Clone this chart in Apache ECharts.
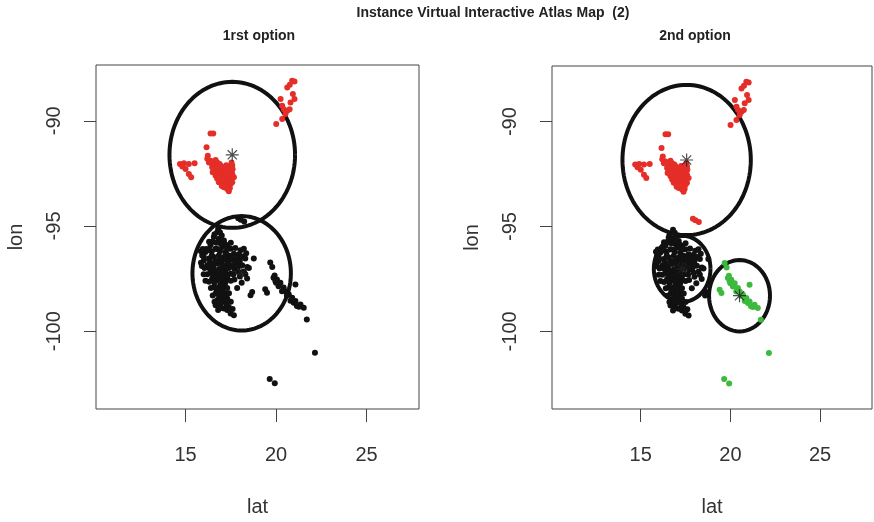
<!DOCTYPE html>
<html>
<head>
<meta charset="utf-8">
<script src="https://cdn.jsdelivr.net/npm/echarts@6/dist/echarts.min.js"></script>
<style>
  html, body { margin: 0; padding: 0; background: #fff; }
  #chart { width: 874px; height: 522px; }
</style>
</head>
<body>
<div id="chart"></div>
<script>
// Tick positions on each axis
const latTicks = [15, 20, 25];
const lonTicks = [-90, -95, -100];

// Observations as [lat, lon]
// Northern group: red in both options
const redPts = [
  [16.38,-90.60],[16.53,-90.60],[16.16,-91.26],[16.23,-91.66],[16.29,-91.98],
  [14.69,-92.05],[14.91,-92.02],[15.18,-92.05],[15.50,-92.02],[15.00,-92.29],
  [15.18,-92.53],[15.31,-92.69],[14.82,-92.18],
  [16.56,-92.05],[16.75,-91.98],[16.93,-92.13],[17.12,-92.21],[17.30,-92.29],
  [17.49,-92.37],[17.54,-91.98],[17.58,-92.13],[16.56,-92.37],[16.75,-92.53],
  [16.93,-92.45],[17.12,-92.61],[17.30,-92.69],[17.49,-92.76],[17.67,-92.69],
  [17.58,-92.92],[17.39,-93.08],[17.30,-93.24],[17.39,-93.35],[17.12,-93.00],
  [16.93,-92.84],[16.75,-92.76],[16.66,-92.61],[16.84,-92.29],[17.03,-92.37],
  [17.21,-92.45],[17.39,-92.53],[17.58,-92.53],[17.21,-92.84],[17.03,-92.69],
  [16.84,-92.92],[17.12,-93.16],[16.47,-92.21],[16.38,-91.90],[16.66,-91.87],
  [16.62,-92.18],[16.88,-92.05],[17.05,-92.22],[17.25,-92.12],[17.45,-92.20],
  [16.98,-92.58],[17.18,-92.75],[17.40,-92.90],[16.70,-92.40],[17.00,-92.95],
  [17.25,-93.00],[17.50,-93.00],[16.90,-92.30],
  [16.20,-91.80],[16.50,-92.45],[16.40,-92.00],[16.65,-92.25],[16.80,-92.60],
  [17.05,-92.80],[17.30,-92.40],[17.50,-92.50],[17.35,-92.80],[17.15,-92.35],
  [16.95,-92.20],[17.60,-92.30],[17.20,-93.10],[17.00,-93.10],[17.45,-93.20],
  [20.89,-88.10],[21.02,-88.14],[20.76,-88.29],[20.62,-88.42],[20.93,-88.73],
  [21.02,-88.97],[20.80,-89.13],[20.25,-88.97],[20.34,-89.29],[20.43,-89.45],
  [20.62,-89.53],[20.75,-89.45],[20.52,-89.68],[20.34,-89.92],[20.01,-90.16]
];
// Black in option 1, red in option 2
const movedPts = [[17.91,-94.63],[18.24,-94.79],[18.05,-94.70]];
// Central group: black in both options
const blackPts = [
  [16.80,-95.15],[16.75,-95.30],[16.56,-95.53],[16.84,-95.61],[17.12,-95.69],
  [17.30,-95.92],[16.38,-95.92],[16.10,-96.24],[16.66,-96.08],[17.03,-96.00],
  [17.49,-96.08],[16.29,-96.55],[16.56,-96.48],[16.84,-96.40],[17.12,-96.48],
  [17.39,-96.40],[17.67,-96.32],[18.04,-96.16],[18.22,-96.08],[16.20,-96.87],
  [16.47,-96.87],[16.75,-96.79],[17.03,-96.87],[17.30,-96.79],[17.58,-96.87],
  [17.86,-96.79],[18.13,-96.87],[18.41,-96.95],[16.38,-97.19],[16.66,-97.19],
  [16.93,-97.27],[17.21,-97.19],[17.49,-97.27],[17.94,-97.19],[18.22,-97.16],
  [16.47,-97.50],[16.75,-97.58],[17.03,-97.58],[17.30,-97.50],[16.56,-97.90],
  [16.84,-97.90],[17.12,-97.82],[16.66,-98.21],[16.93,-98.29],[17.21,-98.21],
  [16.75,-98.53],[17.03,-98.61],[17.30,-98.45],[17.12,-98.92],[17.39,-98.85],
  [16.66,-98.77],[17.49,-99.16],[17.67,-99.24],[15.92,-96.40],[16.01,-96.64],
  [18.77,-96.55],[18.68,-98.14],[18.59,-98.29],
  [16.95,-95.85],[16.45,-96.20],[16.90,-96.20],[17.20,-96.25],[16.65,-96.65],
  [17.00,-96.65],[17.45,-96.62],[16.30,-97.00],[16.85,-97.05],[17.15,-97.00],
  [17.70,-97.05],[16.60,-97.35],[17.05,-97.40],[16.95,-97.75],[16.75,-98.05],
  [17.05,-98.05],[16.85,-98.40],[16.90,-98.80],[17.25,-98.70],[16.15,-96.10],
  [16.50,-95.75],[17.60,-96.60],[18.00,-97.40],[17.70,-97.55],
  [16.60,-95.40],[17.00,-95.45],[16.90,-95.30],[16.30,-95.75],[16.70,-95.80],
  [17.15,-95.85],[17.50,-95.80],[15.95,-96.10],[16.30,-96.15],[16.75,-96.10],
  [17.30,-96.10],[17.75,-96.05],[17.95,-96.35],[16.00,-96.45],[16.45,-96.40],
  [17.25,-96.35],[17.55,-96.50],[17.85,-96.50],[18.30,-96.55],[15.85,-96.75],
  [16.35,-96.70],[16.85,-96.65],[17.20,-96.60],[17.75,-96.70],[18.00,-96.65],
  [16.05,-97.00],[16.55,-97.00],[17.00,-97.05],[17.40,-97.00],[17.90,-96.95],
  [18.30,-97.30],[16.20,-97.30],[16.45,-97.25],[16.80,-97.35],[17.30,-97.35],
  [17.65,-97.30],[16.30,-97.65],[16.60,-97.70],[16.90,-97.60],[17.20,-97.70],
  [17.50,-97.60],[16.40,-97.95],[16.70,-98.00],[17.00,-97.90],[17.30,-97.95],
  [16.50,-98.30],[16.80,-98.20],[17.10,-98.35],[17.40,-98.20],[16.60,-98.60],
  [16.90,-98.60],[17.20,-98.55],[17.50,-98.60],[16.80,-99.00],[17.00,-98.90],
  [17.30,-99.00],[17.60,-98.95],
  [15.90,-96.90],[16.00,-97.30],[16.10,-97.60],[18.35,-96.30],[18.50,-97.00],
  [18.40,-97.50],[18.10,-97.70],[15.85,-96.20],[18.15,-96.45],[17.85,-97.95]
];
// Black in option 1, green in option 2
const greenPts = [
  [19.68,-96.74],[19.79,-96.95],[19.86,-97.46],[20.05,-97.54],[20.24,-97.70],
  [20.14,-97.86],[20.42,-97.93],[20.52,-98.10],[20.70,-98.25],[20.89,-98.41],
  [21.07,-98.57],[21.35,-98.73],[21.53,-98.89],[19.40,-98.01],[19.50,-98.17],
  [21.07,-97.78],[19.96,-97.62],[20.33,-98.10],[20.98,-98.65],[21.26,-98.84],
  [19.92,-97.35],[20.00,-97.70],[20.60,-98.30],[20.80,-98.55],[21.15,-98.80],
  [21.70,-99.45],[22.15,-101.03],[19.65,-102.27],[19.93,-102.48]
];

// Cluster centres [lat, lon] and circle radii (in degrees)
const centres1 = [[17.58,-91.62],[18.10,-97.25]];
const radii1 = [3.47, 2.72];
const centres2 = [[17.56,-91.83],[17.31,-97.02],[20.51,-98.30]];
const radii2 = [3.58, 1.58, 1.70];

const RED = '#e52e28';
const BLACK = '#111111';
const GREEN = '#3dba3d';
const FONT_AX = '"Liberation Sans", Arial, sans-serif';
const FONT_T = '"Liberation Sans", Arial, sans-serif';

// Outline of a circle around a centre, as a closed polyline
function ring(c, r) {
  const pts = [];
  for (let i = 0; i <= 120; i++) {
    const a = (i / 120) * Math.PI * 2;
    pts.push([c[0] + r * Math.cos(a), c[1] + r * Math.sin(a)]);
  }
  return pts;
}

const STAR = 'path://M5,0L5,10M0,5L10,5M1.46,1.46L8.54,8.54M8.54,1.46L1.46,8.54';

function xAx(idx) {
  return {
    gridIndex: idx, type: 'value', min: 10.05, max: 27.9,
    name: 'lat', nameLocation: 'middle', nameGap: 88,
    nameTextStyle: { fontFamily: FONT_AX, fontSize: 20, color: '#333' },
    splitLine: { show: false },
    axisLine: { show: false },
    axisTick: { show: true, inside: false, length: 13, customValues: latTicks,
      lineStyle: { color: '#444', width: 1 } },
    axisLabel: { customValues: latTicks, margin: 36, fontFamily: FONT_AX,
      fontSize: 20, color: '#333' }
  };
}
function yAx(idx) {
  return {
    gridIndex: idx, type: 'value', min: -103.7, max: -87.35,
    name: 'lon', nameLocation: 'middle', nameGap: 70, nameRotate: 90,
    nameTextStyle: { fontFamily: FONT_AX, fontSize: 20, color: '#333' },
    splitLine: { show: false },
    axisLine: { show: false },
    axisTick: { show: true, inside: false, length: 12, customValues: lonTicks,
      lineStyle: { color: '#444', width: 1 } },
    axisLabel: { customValues: lonTicks, rotate: 90, margin: 32,
      fontFamily: FONT_AX, fontSize: 20, color: '#333' }
  };
}

function pts(data, color, idx, z) {
  return { type: 'scatter', xAxisIndex: idx, yAxisIndex: idx, data: data,
    symbol: 'circle', symbolSize: 6, itemStyle: { color: color, opacity: 1 },
    z: z || 3, silent: true, animation: false };
}
function rings(centres, radii, idx) {
  return centres.map((c, i) => ({
    type: 'line', xAxisIndex: idx, yAxisIndex: idx, data: ring(c, radii[i]),
    showSymbol: false, symbol: 'none', smooth: false,
    lineStyle: { color: BLACK, width: 4 }, z: 2, silent: true, animation: false
  }));
}
function stars(centres, idx) {
  return { type: 'scatter', xAxisIndex: idx, yAxisIndex: idx, data: centres,
    symbol: STAR, symbolSize: 13,
    itemStyle: { color: 'rgba(0,0,0,0)', borderColor: '#222', borderWidth: 1.2 },
    z: 5, silent: true, animation: false };
}

const chart = echarts.init(document.getElementById('chart'), null, { renderer: 'canvas' });
chart.setOption({
  backgroundColor: '#ffffff',
  animation: false,
  grid: [
    { left: 96, top: 65, width: 323, height: 344, show: true,
      borderColor: '#444', borderWidth: 1, backgroundColor: 'transparent' },
    { left: 552, top: 66, width: 320, height: 343, show: true,
      borderColor: '#444', borderWidth: 1, backgroundColor: 'transparent' }
  ],
  xAxis: [xAx(0), xAx(1)],
  yAxis: [yAx(0), yAx(1)],
  graphic: [
    { type: 'text', x: 493, y: 13, style: { text: 'Instance Virtual Interactive Atlas Map  (2)',
      font: 'bold 14px ' + FONT_T, fill: '#222', textAlign: 'center', textVerticalAlign: 'middle' } },
    { type: 'text', x: 259, y: 36, style: { text: '1rst option',
      font: 'bold 14px ' + FONT_T, fill: '#222', textAlign: 'center', textVerticalAlign: 'middle' } },
    { type: 'text', x: 695, y: 36, style: { text: '2nd option',
      font: 'bold 14px ' + FONT_T, fill: '#222', textAlign: 'center', textVerticalAlign: 'middle' } }
  ],
  series: [
    // 1rst option: two clusters
    ...rings(centres1, radii1, 0),
    pts(redPts, RED, 0),
    pts(movedPts, BLACK, 0),
    pts(blackPts, BLACK, 0),
    pts(greenPts, BLACK, 0),
    stars(centres1, 0),
    // 2nd option: three clusters
    ...rings(centres2, radii2, 1),
    pts(redPts, RED, 1),
    pts(movedPts, RED, 1),
    pts(blackPts, BLACK, 1),
    pts(greenPts, GREEN, 1),
    stars(centres2, 1)
  ]
});
</script>
</body>
</html>
